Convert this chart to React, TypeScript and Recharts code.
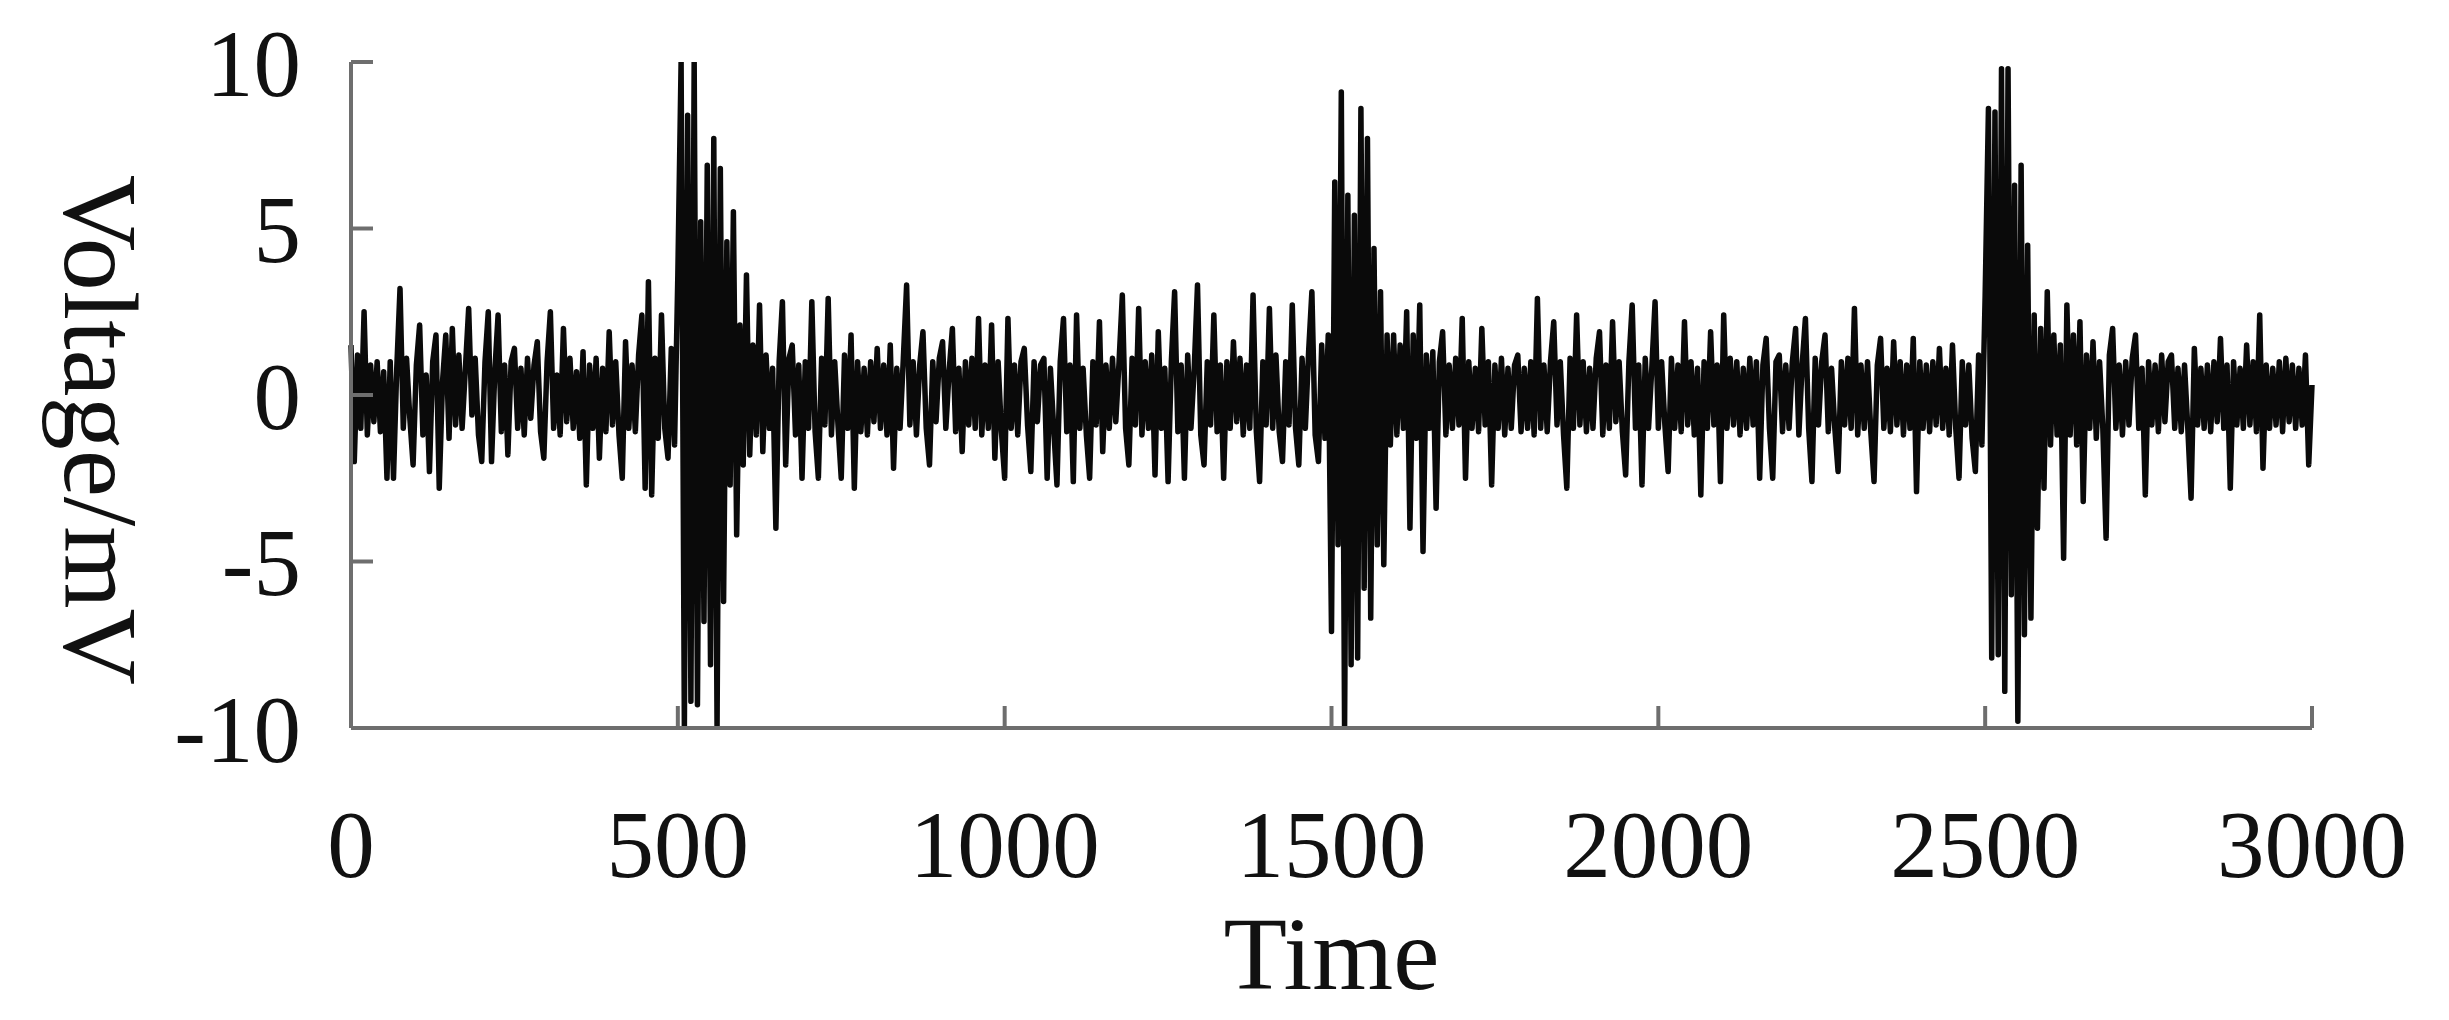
import { LineChart, Line, XAxis, YAxis } from "recharts";

// sample spacing on the time axis
const SAMPLE_STEP = 5;

// voltage readings (mV) in blocks of 500 time units
const V_0_500 = [
  1.5, -2.0, 1.2, -1.0, 2.5, -1.2, 0.9, -0.8, 1.0, -1.1,
  0.7, -2.5, 1.0, -2.5, 0.8, 3.2, -1.0, 1.1, -0.7, -2.1,
  0.9, 2.1, -1.2, 0.6, -2.3, 1.0, 1.8, -2.8, 0.4, 1.8,
  -1.3, 2.0, -0.9, 1.2, -1.0, 0.8, 2.6, -0.6, 1.1, -1.2,
  -2.0, 1.0, 2.5, -2.0, 0.7, 2.4, -1.1, 0.9, -1.8, 1.0,
  1.4, -1.0, 0.8, -1.2, 1.1, -0.7, 0.9, 1.6, -1.1, -1.9,
  1.0, 2.5, -1.0, 0.6, -1.2, 2.0, -0.8, 1.1, -1.0, 0.7,
  -1.3, 1.3, -2.7, 0.9, -1.0, 1.1, -1.9, 0.8, -1.1, 1.9,
  -0.9, 1.0, -1.2, -2.5, 1.6, -1.0, 0.9, -1.1, 1.2, 2.4,
  -2.8, 3.4, -3.0, 1.1, -1.3, 2.4, -1.0, -1.9, 1.4, -1.5,
];

const V_500_1000 = [
  3.6, 10, -10, 8.4, -9.2, 10, -9.3, 5.2, -6.8, 6.9,
  -8.1, 7.7, -10, 6.8, -6.2, 4.6, -2.7, 5.5, -4.2, 2.1,
  -2.1, 3.6, -1.8, 1.5, -1.2, 2.7, -1.7, 1.2, -1.0, 0.8,
  -4.0, 1.0, 2.8, -2.1, 1.1, 1.5, -1.2, 0.9, -2.5, 1.0,
  -1.0, 2.8, -1.1, -2.5, 1.1, -0.9, 2.9, -1.2, 1.0, -0.9,
  -2.5, 1.2, -1.0, 1.8, -2.8, 1.0, -1.1, 0.8, -1.2, 1.0,
  -0.8, 1.4, -1.0, 0.9, -1.2, 1.5, -2.2, 0.8, -1.0, 1.1,
  3.3, -0.9, 1.0, -1.2, 0.9, 1.9, -1.0, -2.1, 1.0, -0.8,
  1.1, 1.6, -1.0, 0.7, 2.0, -1.1, 0.8, -1.7, 1.0, -0.9,
  1.1, -1.0, 2.3, -1.2, 0.9, -1.0, 2.1, -1.9, 1.0, -1.1,
];

const V_1000_1500 = [
  -2.5, 2.3, -1.0, 0.9, -1.2, 1.0, 1.4, -0.9, -2.3, 1.0,
  -0.8, 0.9, 1.1, -2.5, 0.8, -1.0, -2.7, 1.0, 2.3, -1.1,
  0.9, -2.6, 2.4, -1.0, 0.8, -1.2, -2.5, 1.0, -0.9, 2.2,
  -1.7, 0.9, -1.0, 1.1, -0.8, 1.0, 3.0, -1.0, -2.1, 1.1,
  -0.9, 2.6, -1.2, 1.0, -1.0, 1.2, -2.4, 1.9, -1.0, 0.8,
  -2.6, 1.0, 3.1, -1.1, 0.9, -2.5, 1.2, -1.0, 0.8, 3.3,
  -1.2, -2.1, 1.0, -0.9, 2.4, -1.1, 0.9, -2.5, 1.0, -1.0,
  1.6, -0.8, 1.1, -1.2, 0.9, -1.0, 3.0, -1.1, -2.6, 1.0,
  -0.9, 2.6, -1.0, 1.2, -1.1, -2.0, 1.0, -0.9, 2.7, -1.0,
  -2.1, 1.1, -1.0, 1.3, 3.1, -1.2, -2.0, 1.5, -1.3, 1.8,
];

const V_1500_2000 = [
  -7.1, 6.4, -4.5, 9.1, -10, 6.0, -8.1, 5.4, -7.9, 8.6,
  -5.8, 7.7, -6.7, 4.4, -4.5, 3.1, -5.1, 1.8, -1.5, 1.8,
  -1.2, 1.5, -1.0, 2.5, -4.0, 1.8, -1.3, 2.7, -4.7, 1.2,
  -1.0, 1.3, -3.4, 1.0, 1.9, -1.2, 0.9, -1.0, 1.1, -0.9,
  2.3, -2.5, 1.0, -1.0, 0.8, -1.1, 2.0, -0.9, 1.0, -2.7,
  0.9, -1.0, 1.1, -1.2, 0.8, -1.0, 0.9, 1.2, -1.1, 0.8,
  -1.0, 1.0, -1.2, 2.9, -1.0, 0.9, -1.1, 1.0, 2.2, -0.9,
  1.0, -1.2, -2.8, 1.1, -1.0, 2.4, -0.9, 1.0, -1.1, 0.8,
  -1.0, 1.1, 1.9, -1.2, 0.9, -1.0, 2.2, -0.8, 1.0, -1.1,
  -2.4, 1.0, 2.7, -1.0, 0.9, -2.7, 1.1, -1.0, 0.8, 2.8,
];

const V_2000_2500 = [
  -1.0, 1.0, -0.9, -2.3, 1.1, -1.0, 0.9, -1.1, 2.2, -0.9,
  1.0, -1.2, 0.8, -3.0, 1.0, -1.0, 1.9, -0.9, 0.9, -2.6,
  2.4, -1.0, 1.1, -0.9, 1.0, -1.2, 0.8, -1.0, 1.1, -0.9,
  1.0, -2.5, 0.9, 1.7, -1.0, -2.5, 1.0, 1.2, -1.1, 0.9,
  -1.0, 1.0, 2.0, -1.2, 0.9, 2.3, -1.0, -2.6, 1.1, -0.9,
  1.0, 1.8, -1.1, 0.8, -1.0, -2.3, 1.0, -0.9, 1.1, -1.0,
  2.6, -1.2, 0.9, -1.0, 1.0, -1.1, -2.6, 0.9, 1.7, -1.0,
  0.8, -1.1, 1.6, -0.9, 1.0, -1.2, 0.9, -1.0, 1.7, -2.9,
  1.0, -1.0, 0.9, -1.1, 1.0, -0.9, 1.4, -1.0, 0.8, -1.2,
  1.5, -1.0, -2.5, 1.0, -0.9, 0.9, -1.3, -2.3, 1.2, -1.5,
];

const V_2500_3000 = [
  3.0, 8.6, -7.9, 8.5, -7.8, 9.8, -8.9, 9.8, -6.0, 6.3,
  -9.8, 6.9, -7.2, 4.5, -6.7, 2.4, -4.0, 2.0, -2.8, 3.1,
  -1.5, 1.8, -1.2, 1.5, -4.9, 2.7, -1.2, 1.8, -1.5, 2.2,
  -3.2, 1.2, -1.0, 1.6, -1.3, 1.0, -1.0, -4.3, 1.2, 2.0,
  -1.0, 0.9, -1.2, 1.0, -0.9, 1.1, 1.8, -1.0, 0.8, -3.0,
  1.0, -0.9, 0.9, -1.1, 1.2, -0.8, 1.0, 1.2, -1.0, 0.8,
  -1.1, 0.9, -1.0, -3.1, 1.4, -0.9, 0.8, -1.0, 0.9, -1.1,
  1.0, -0.8, 1.7, -1.0, 0.9, -2.8, 1.0, -0.9, 0.8, -1.0,
  1.5, -0.9, 1.0, -1.1, 2.4, -2.2, 0.9, -1.0, 0.8, -0.9,
  1.0, -1.1, 1.1, -0.8, 0.9, -1.0, 0.8, -0.9, 1.2, -2.1,
  0.3,
];

const X_TICKS = [0, 500, 1000, 1500, 2000, 2500, 3000];
const Y_TICKS = [-10, -5, 0, 5, 10];

const voltage = [
  ...V_0_500,
  ...V_500_1000,
  ...V_1000_1500,
  ...V_1500_2000,
  ...V_2000_2500,
  ...V_2500_3000,
];

const data = voltage.map((v, i) => ({ t: i * SAMPLE_STEP, v }));

const FONT = '"Liberation Serif", "Times New Roman", serif';
const AXIS_GRAY = "#6e6e6e";

const YTitle = () => (
  <text
    x={100}
    y={430}
    transform="rotate(90 100 430)"
    textAnchor="middle"
    dominantBaseline="central"
    fontFamily={FONT}
    fontSize={106}
    fill="#111"
  >
    Voltage/mV
  </text>
);

export default function App() {
  return (
    <div style={{ position: "absolute", left: 0, top: 0, background: "#fff" }}>
      <LineChart
        width={2449}
        height={1020}
        data={data}
        margin={{ top: 62, right: 137, left: 0, bottom: 0 }}
      >
        <XAxis
          dataKey="t"
          type="number"
          domain={[0, 3000]}
          ticks={X_TICKS}
          height={292}
          stroke={AXIS_GRAY}
          strokeWidth={4}
          tickSize={-22}
          tickMargin={104}
          tick={{ fontFamily: FONT, fontSize: 95, fill: "#111" }}
          label={{
            value: "Time",
            position: "insideBottom",
            offset: 31,
            fontFamily: FONT,
            fontSize: 104,
            fill: "#111",
          }}
        />
        <YAxis
          type="number"
          domain={[-10, 10]}
          ticks={Y_TICKS}
          width={351}
          stroke={AXIS_GRAY}
          strokeWidth={4}
          tickSize={-22}
          tickMargin={72}
          tick={{ fontFamily: FONT, fontSize: 95, fill: "#111" }}
          allowDataOverflow
          label={{ content: <YTitle /> }}
        />
        <Line
          type="linear"
          dataKey="v"
          stroke="#0a0a0a"
          strokeWidth={5.5}
          strokeLinejoin="round"
          dot={false}
          isAnimationActive={false}
        />
      </LineChart>
    </div>
  );
}
